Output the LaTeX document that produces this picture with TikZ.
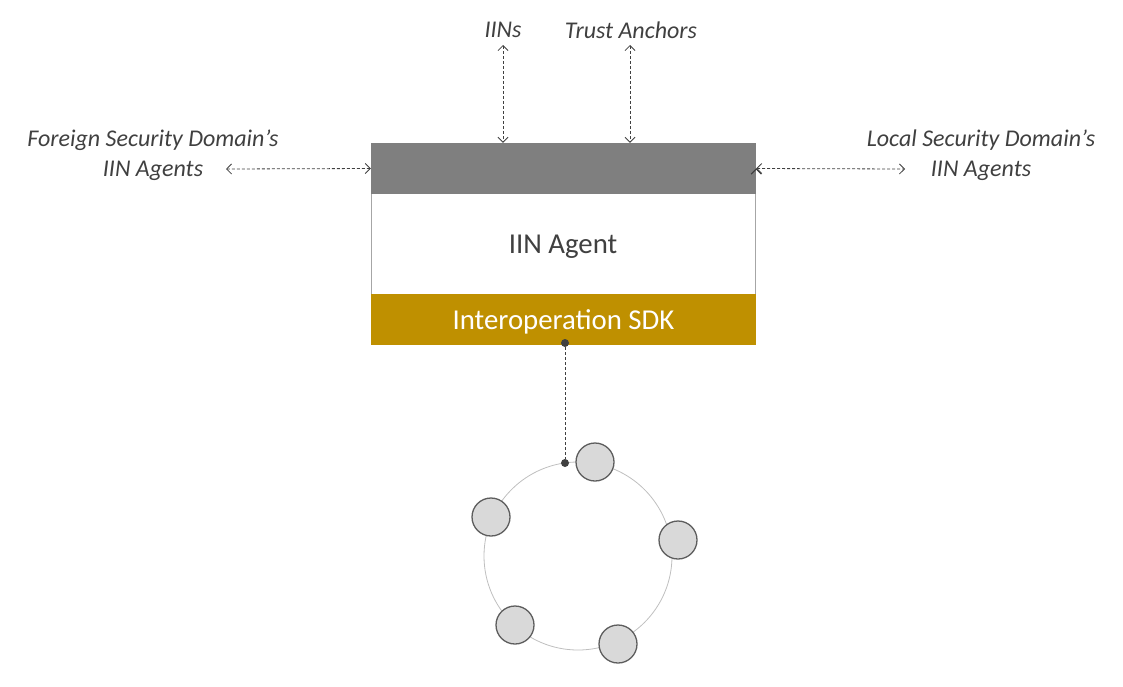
\documentclass[tikz,border=0pt]{standalone}
\usepackage{fontspec}
\setmainfont{Carlito}
\usepackage{xcolor}
\usepackage{tikz}
\usetikzlibrary{arrows.meta, positioning}

\definecolor{txtgray}{HTML}{404040}
\definecolor{hdrgray}{HTML}{7F7F7F}
\definecolor{sdkgold}{HTML}{BF9000}
\definecolor{nodegray}{HTML}{D9D9D9}

\tikzset{
  layer/.style={rectangle, minimum width=385, minimum height=51, inner sep=0},
  lbl/.style={text=txtgray, font=\fontsize{24}{30}\selectfont\itshape, align=center},
  link/.style={draw=txtgray, dash pattern=on 3pt off 2pt, line width=0.8pt,
    {Straight Barb[length=5pt, width=10pt]}-{Straight Barb[length=5pt, width=10pt]}},
  peer/.style={circle, fill=nodegray, draw=txtgray!85, line width=1.3pt, minimum size=38, inner sep=0},
  pin/.style={circle, fill=txtgray, minimum size=8, inner sep=0},
}

\begin{document}
\begin{tikzpicture}[x=1pt, y=-1pt]
        \useasboundingbox (0,0) rectangle (1123,686);

        % the agent box
        \node[layer, draw=gray!70, fill=white, minimum width=384, minimum height=120] (agent) at (563.5,243.5) {};
        \node[layer, fill=hdrgray] (hdr) at (563.5,168.5) {};
        \node[layer, fill=sdkgold, text=white, font=\fontsize{28.8}{34}\selectfont] (sdk) at (563.5,319) {};
        \node[text=white, font=\fontsize{28.8}{34}\selectfont] (sdktxt) at (563.5,322) {Interoperation SDK};
        \node[text=txtgray, font=\fontsize{28.8}{34}\selectfont] (agenttxt) at (563,247) {IIN Agent};

        % outside parties
        \node[lbl] (iins) at (503,30) {IINs};
        \node[lbl] (anchors) at (631,30) {Trust Anchors};
        \node[lbl] (foreign) at (153,155) {Foreign Security Domain's\\IIN Agents};
        \node[lbl] (local) at (981,155) {Local Security Domain's\\IIN Agents};

        \coordinate (iinsend) at (503,45);
        \coordinate (anchorsend) at (630,45);
        \coordinate (foreignend) at (226,169);
        \coordinate (localend) at (905,169);

        % ledger network
        \node[circle, draw=gray!50, line width=0.8pt, minimum size=188, inner sep=0] (ring) at (578,556) {};
        \node[pin] (sdkpin) at (565,343) {};
        \node[pin] (ringpin) at (565,463) {};

        \node[peer] (p1) at (595,462) {};
        \node[peer] (p2) at (678,540) {};
        \node[peer] (p3) at (618,644) {};
        \node[peer] (p4) at (515,625) {};
        \node[peer] (p5) at (491,517) {};

        \path[link]
        (iinsend) edge (hdr.north -| iinsend)
        (anchorsend) edge (hdr.north -| anchorsend)
        (foreignend) edge (hdr.west)
        (hdr.east) edge (localend);

        \draw[draw=txtgray, dash pattern=on 3pt off 2pt, line width=0.8pt] (sdkpin) -- (ringpin);

    \end{tikzpicture}
\end{document}
